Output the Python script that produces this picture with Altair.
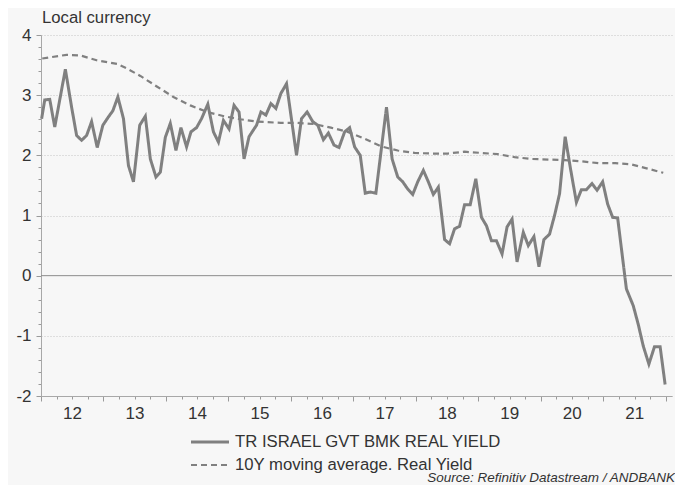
import altair as alt
import pandas as pd

SERIES_MAIN = "TR ISRAEL GVT BMK REAL YIELD"
SERIES_MA = "10Y moving average. Real Yield"

main_years = [
    2012.01, 2012.06, 2012.14, 2012.22, 2012.39, 2012.49, 2012.57, 2012.65, 2012.73, 2012.81,
    2012.90, 2012.99, 2013.08, 2013.15, 2013.23, 2013.32, 2013.40, 2013.48, 2013.58, 2013.67,
    2013.75, 2013.84, 2013.91, 2013.99, 2014.07, 2014.16, 2014.24, 2014.33, 2014.40, 2014.49,
    2014.57, 2014.67, 2014.76, 2014.84, 2014.92, 2015.01, 2015.09, 2015.17, 2015.25, 2015.33,
    2015.38, 2015.45, 2015.52, 2015.60, 2015.68, 2015.76, 2015.84, 2015.93, 2016.09, 2016.17,
    2016.26, 2016.35, 2016.43, 2016.52, 2016.60, 2016.69, 2016.77, 2016.86, 2016.94, 2017.02,
    2017.11, 2017.19, 2017.27, 2017.36, 2017.53, 2017.62, 2017.71, 2017.79, 2017.87, 2017.95,
    2018.03, 2018.12, 2018.20, 2018.28, 2018.36, 2018.46, 2018.54, 2018.62, 2018.70, 2018.78,
    2018.87, 2018.96, 2019.05, 2019.13, 2019.21, 2019.29, 2019.38, 2019.46, 2019.54, 2019.62,
    2019.72, 2019.80, 2019.89, 2019.97, 2020.05, 2020.14, 2020.22, 2020.30, 2020.39, 2020.48,
    2020.57, 2020.65, 2020.73, 2020.82, 2020.90, 2020.99, 2021.07, 2021.15, 2021.23, 2021.37,
    2021.48, 2021.56, 2021.64, 2021.73, 2021.82, 2021.91, 2021.99,
]
main_values = [
    2.61, 2.92, 2.93, 2.47, 3.43, 2.80, 2.33, 2.25, 2.33, 2.56,
    2.13, 2.50, 2.64, 2.74, 2.97, 2.61, 1.83, 1.56, 2.50, 2.65,
    1.94, 1.64, 1.72, 2.30, 2.53, 2.08, 2.46, 2.14, 2.39, 2.46,
    2.61, 2.85, 2.39, 2.22, 2.58, 2.44, 2.83, 2.72, 1.94, 2.31,
    2.39, 2.50, 2.72, 2.67, 2.86, 2.78, 3.03, 3.19, 2.00, 2.61,
    2.72, 2.56, 2.50, 2.26, 2.37, 2.17, 2.13, 2.39, 2.46, 2.14,
    2.00, 1.37, 1.39, 1.37, 2.80, 1.94, 1.64, 1.56, 1.44, 1.35,
    1.56, 1.75, 1.56, 1.35, 1.47, 0.60, 0.53, 0.78, 0.82, 1.18,
    1.18, 1.61, 0.97, 0.83, 0.58, 0.58, 0.36, 0.81, 0.94, 0.23,
    0.72, 0.50, 0.65, 0.15, 0.60, 0.69, 1.00, 1.36, 2.31, 1.75,
    1.22, 1.43, 1.43, 1.53, 1.42, 1.56, 1.19, 0.97, 0.96, -0.22,
    -0.50, -0.81, -1.17, -1.47, -1.18, -1.18, -1.81,
]

ma_years = [
    2012.02, 2012.41, 2012.63, 2012.89, 2013.22, 2013.38, 2013.59, 2013.86, 2014.12, 2014.39,
    2014.66, 2014.93, 2015.19, 2015.46, 2015.84, 2016.10, 2016.37, 2016.64, 2016.91, 2017.17,
    2017.44, 2017.71, 2017.98, 2018.24, 2018.51, 2018.78, 2019.05, 2019.31, 2019.58, 2019.85,
    2020.12, 2020.38, 2020.65, 2020.92, 2021.19, 2021.45, 2021.71, 2021.96,
]
ma_values = [
    3.61, 3.67, 3.66, 3.58, 3.52, 3.44, 3.32, 3.14, 2.97, 2.83,
    2.72, 2.65, 2.60, 2.56, 2.54, 2.54, 2.52, 2.46, 2.39, 2.28,
    2.15, 2.08, 2.04, 2.03, 2.03, 2.06, 2.04, 2.02, 1.97, 1.94,
    1.93, 1.92, 1.90, 1.87, 1.87, 1.85, 1.78, 1.71,
]

x_ticks = [2012 + 0.25 * i for i in range(41)]
y_ticks = [round(-2 + 0.2 * i, 1) for i in range(31)]
title_text = ["Local currency"]
source_note = ["Source: Refinitiv Datastream / ANDBANK"]

df = pd.concat([
    pd.DataFrame({"year": main_years, "value": main_values, "series": SERIES_MAIN}),
    pd.DataFrame({"year": ma_years, "value": ma_values, "series": SERIES_MA}),
], ignore_index=True)

FONT = "Liberation Sans"
TXT = "#333333"
W, H = 631, 361

is_int = "abs(datum.value - round(datum.value)) < 0.001"

x_enc = alt.X(
    "year:Q",
    title=None,
    scale=alt.Scale(domain=[2012, 2022.1], nice=False, zero=False),
    axis=alt.Axis(
        values=x_ticks,
        labelExpr=f"({is_int} && datum.value < 2022) ? substring(toString(round(datum.value)), 2, 4) : ''",
        labelOffset=31,
        labelFlush=False,
        labelOverlap=False,
        labelFontSize=17,
        labelColor=TXT,
        labelFont=FONT,
        labelPadding=4,
        tickSize={"condition": {"test": is_int, "value": 5}, "value": 3},
        tickColor="#9a9a9a",
        domainColor="#a8a8a8",
        grid=False,
    ),
)
y_axis = alt.Axis(
    values=y_ticks,
    labelExpr=f"{is_int} ? toString(round(datum.value)) : ''",
    labelOverlap=False,
    labelFontSize=17,
    labelColor=TXT,
    labelFont=FONT,
    labelPadding=5,
    tickSize={"condition": {"test": is_int, "value": 5}, "value": 3},
    tickColor="#9a9a9a",
    domainColor="#a8a8a8",
    grid=True,
    gridColor="#c4c4c4",
    gridDash=[1, 2],
    gridOpacity={"condition": {"test": f"{is_int} && datum.value != 0", "value": 1}, "value": 0},
)
y_scale = alt.Scale(domain=[-2, 4], nice=False, zero=False)

legend = alt.Legend(
    title=None,
    orient="none",
    legendX=158,
    legendY=396,
    labelFontSize=16.7,
    labelFont=FONT,
    labelColor=TXT,
    labelLimit=0,
    symbolType="M-2,0H2",
    symbolSize=361,
    symbolStrokeColor="#808080",
    rowPadding=3,
    labelOffset=14,
)

lines = alt.Chart(df).mark_line(color="#808080", strokeJoin="miter").encode(
    x=x_enc,
    y=alt.Y("value:Q", title=None, scale=y_scale, axis=y_axis),
    strokeDash=alt.StrokeDash(
        "series:N",
        scale=alt.Scale(domain=[SERIES_MAIN, SERIES_MA], range=[[1, 0], [6, 4]]),
        legend=legend,
    ),
    strokeWidth=alt.StrokeWidth(
        "series:N",
        scale=alt.Scale(domain=[SERIES_MAIN, SERIES_MA], range=[3, 2.2]),
        legend=legend,
    ),
)

zero_rule = alt.Chart(pd.DataFrame({"v": [0]})).mark_rule(color="#8c8c8c", strokeWidth=1).encode(
    y=alt.Y("v:Q", title=None, scale=y_scale, axis=y_axis),
)

title = alt.Chart(pd.DataFrame({"t": title_text})).mark_text(
    align="left", baseline="alphabetic", fontSize=16.7, font=FONT, color=TXT
).encode(x=alt.value(1), y=alt.value(-12), text="t:N")

source = alt.Chart(pd.DataFrame({"t": source_note})).mark_text(
    align="right", baseline="alphabetic", fontStyle="italic", fontSize=13.5, font=FONT, color=TXT
).encode(x=alt.value(W + 3), y=alt.value(H + 86), text="t:N")

chart = alt.layer(zero_rule, lines, title, source).properties(
    width=W,
    height=H,
    autosize="none",
    padding={"left": 33, "top": 27, "right": 3, "bottom": 89},
    background="#f7f7f7",
).configure_view(stroke=None)

chart.save("out.html", embed_options={"renderer": "svg", "actions": False})
